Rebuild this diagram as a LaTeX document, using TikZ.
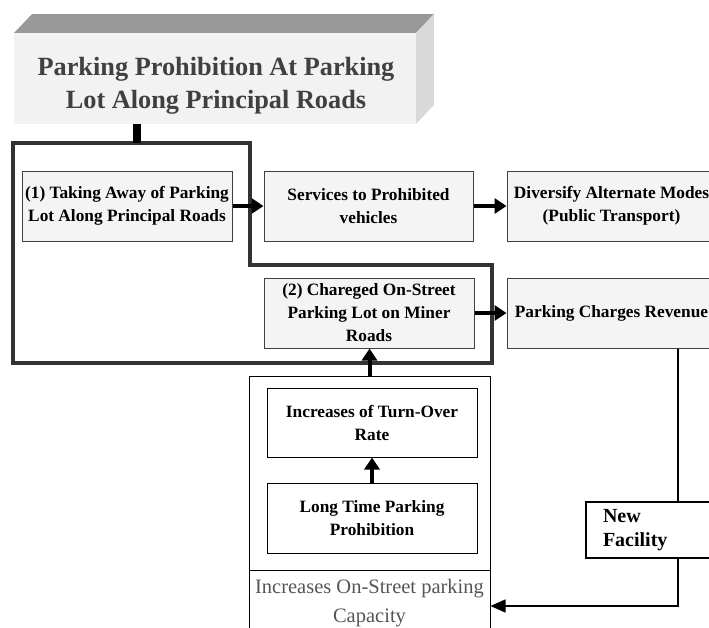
\documentclass[tikz,border=0pt]{standalone}
\usepackage{fontspec}
\setmainfont{Liberation Serif}
\usetikzlibrary{arrows.meta}
\definecolor{boxfill}{HTML}{F4F4F4}
\definecolor{boxline}{HTML}{404040}
\definecolor{titleface}{HTML}{F2F2F2}
\definecolor{titletop}{HTML}{999999}
\definecolor{titleside}{HTML}{D9D9D9}
\definecolor{titleink}{HTML}{404040}
\definecolor{frameink}{HTML}{333333}
\definecolor{capink}{HTML}{555555}
\begin{document}
\begin{tikzpicture}[x=1pt,y=-1pt,
  box/.style={draw=boxline, line width=1pt, fill=boxfill, minimum width=210pt, minimum height=70pt,
    inner sep=0pt, align=center, font=\bfseries\fontsize{17.3}{23}\selectfont},
  wbox/.style={box, fill=white, draw=black},
  thickarrow/.style={line width=4pt, -{Triangle[length=12pt,width=15pt]}},
  thinline/.style={line width=1.5pt},
  frame/.style={draw=frameink, line width=3.5pt}]
\useasboundingbox (0,0) rectangle (709,627);
% title block
\fill[titletop] (14,33) -- (32,14) -- (434,14) -- (416,33) -- cycle;
\fill[titleside] (416,33) -- (434,14) -- (434,105) -- (416,124) -- cycle;
\node[fill=titleface, minimum width=402pt, minimum height=91pt, inner sep=0pt] (title) at (215,78.5) {};
\node[text=titleink, align=center, font=\bfseries\fontsize{26.3}{33}\selectfont] (titletext) at (216,85.5)
  {Parking Prohibition At Parking\\Lot Along Principal Roads};
% boxes
\node[box] (b1) at (127,206) {(1) Taking Away of Parking\\Lot Along Principal Roads};
\node[box, minimum width=209pt] (b2) at (368.5,206) {Services to Prohibited\\vehicles};
\node[box, minimum width=209pt] (b3) at (611.5,206) {Diversify Alternate Modes\\(Public Transport)};
\node[box] (b4) at (369,313) {(2) Chareged On-Street\\Parking Lot on Miner\\Roads};
\node[box, minimum width=209pt] (b5) at (611.5,313) {Parking Charges Revenue};
% frame polygon
\coordinate (ftop) at (137,143);
\draw[frame] (13,143) -- (250,143) -- (250,265) -- (492,265) -- (492,363) -- (13,363) -- cycle;
\draw[line width=8pt] (title.south -| ftop) -- (ftop);
% lower block
\node[draw=black, line width=1pt, minimum width=241pt, minimum height=264pt, inner sep=0pt] (outer) at (369.5,508) {};
\coordinate (divl) at (249,570);
\coordinate (divr) at (490,570);
\draw[line width=1pt] (divl) -- (divr);
\node[text=capink, align=center, font=\fontsize{20.5}{29}\selectfont] (cap) at (369.5,603)
  {Increases On-Street parking\\Capacity};
\node[wbox, minimum height=69pt] (ib1) at (372,422.5) {Increases of Turn-Over\\Rate};
\node[wbox] (ib2) at (372,518) {Long Time Parking\\Prohibition};
% new facility
\node[draw=black, line width=1.5pt, fill=white, text width=100pt, inner xsep=17pt, inner ysep=0pt,
  minimum height=56pt, align=left, font=\bfseries\fontsize{20}{24}\selectfont] (nf) at (653,530) {New\\Facility};
% connectors
\draw[thickarrow] (b1.east) -- (b2.west);
\draw[thickarrow] (b2.east) -- (b3.west);
\draw[thickarrow] (b4.east) -- (b5.west);
\draw[thickarrow] (outer.north) -- (outer.north |- b4.south);
\draw[thickarrow] (ib2.north) -- (ib1.south);
\coordinate (corner) at (678,606);
\draw[thinline] (b5.south -| corner) -- (nf.north -| corner);
\draw[thinline, -{Triangle[length=15pt,width=13pt]}] (nf.south -| corner) -- (corner) -- (outer.east |- corner);
\end{tikzpicture}
\end{document}
